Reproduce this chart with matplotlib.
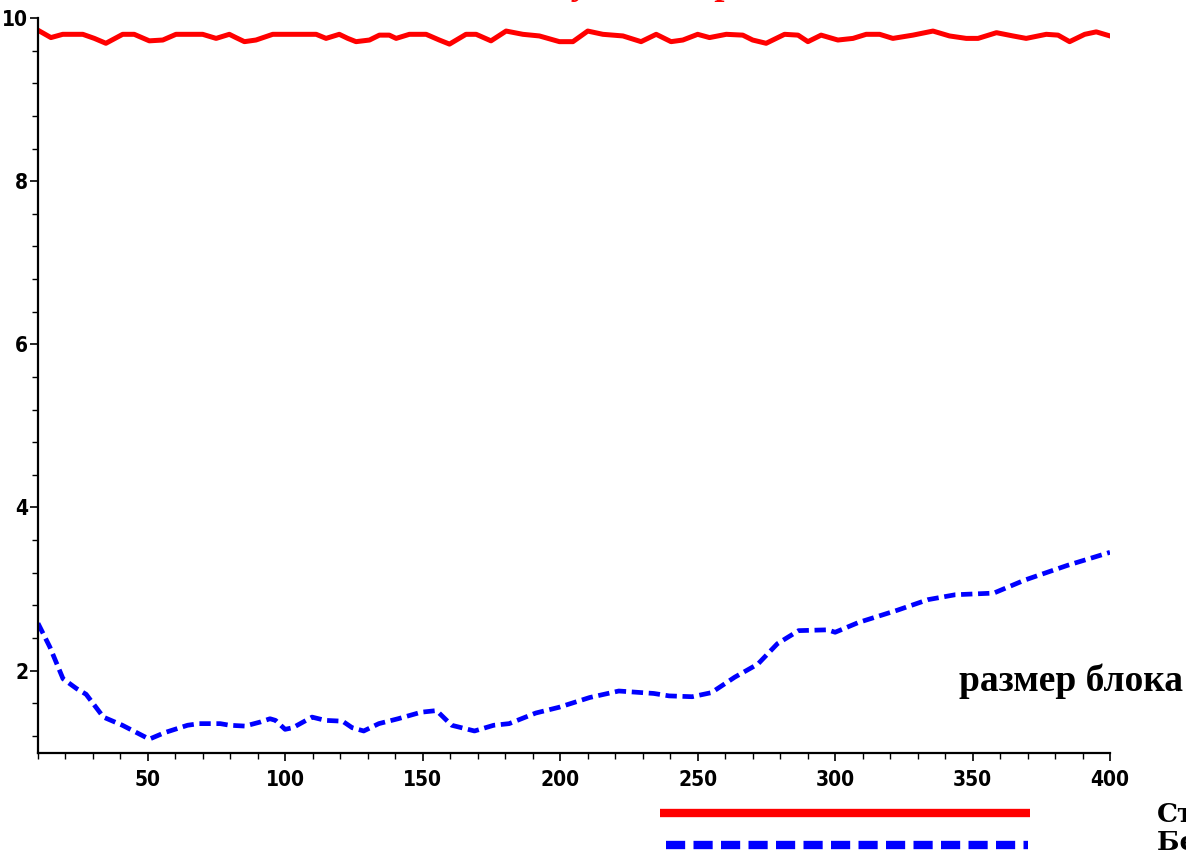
import matplotlib
matplotlib.use("Agg")
import matplotlib.pyplot as plt
from matplotlib.lines import Line2D
from matplotlib.ticker import MultipleLocator

# block size values and measured ratios for the two methods
x_std = [10, 14.7, 19, 26.3, 30.5, 34.7, 40.8, 45, 50.5, 55.4, 60.2, 69.9, 74.8, 79.6, 82,
         85.1, 89.3, 95.4, 111.2, 114.8, 119.6, 122.7, 125.7, 130.6, 134.2, 137.8, 140.3,
         145.1, 151.2, 156, 159.7, 165.7, 169.4, 174.8, 180.3, 186.4, 192.4, 199.7, 204.6,
         210, 215.5, 222.8, 229.4, 234.9, 240.3, 244.6, 250, 254.3, 260.4, 266.4, 270,
         274.9, 281.6, 286.5, 290.1, 294.9, 301, 306.5, 311.3, 316.2, 321, 328.3, 335.6,
         341.6, 347.7, 352, 358.7, 364.7, 369.5, 376.8, 381.1, 385.3, 390.8, 395, 400]
y_std = [9.85, 9.76, 9.80, 9.80, 9.75, 9.69, 9.80, 9.80, 9.72, 9.73, 9.80, 9.80, 9.75, 9.80,
         9.76, 9.71, 9.73, 9.80, 9.80, 9.75, 9.80, 9.75, 9.71, 9.73, 9.79, 9.79, 9.75,
         9.80, 9.80, 9.73, 9.68, 9.80, 9.80, 9.72, 9.84, 9.80, 9.78, 9.71, 9.71,
         9.84, 9.80, 9.78, 9.71, 9.80, 9.71, 9.73, 9.80, 9.76, 9.80, 9.79, 9.73,
         9.69, 9.80, 9.79, 9.71, 9.79, 9.73, 9.75, 9.80, 9.80, 9.75, 9.79, 9.84,
         9.78, 9.75, 9.75, 9.82, 9.78, 9.75, 9.80, 9.79, 9.71, 9.80, 9.83, 9.78]

x_blk = [10, 14.3, 19.1, 24, 27.5, 33.8, 40.7, 50.5, 56.1, 64.4, 68.6, 76.3, 79.7, 85.3,
         90.9, 94.4, 96.4, 99.9, 102.7, 109.7, 114.5, 120.8, 124.3, 128.5, 134, 141,
         149.4, 155, 160.5, 168.8, 175.8, 181.4, 191.1, 199.5, 210.7, 221.3, 234,
         239.6, 248, 255, 263.5, 271.9, 279, 286.7, 297.3, 300, 308.5, 322.6, 333.8,
         343.7, 357.7, 369, 384.5, 400]
y_blk = [2.58, 2.29, 1.90, 1.78, 1.71, 1.43, 1.33, 1.16, 1.24, 1.33, 1.35, 1.35, 1.33, 1.32,
         1.37, 1.41, 1.39, 1.28, 1.30, 1.43, 1.39, 1.38, 1.30, 1.26, 1.35, 1.41,
         1.49, 1.51, 1.33, 1.26, 1.33, 1.35, 1.48, 1.55, 1.67, 1.75, 1.72,
         1.69, 1.68, 1.73, 1.92, 2.08, 2.33, 2.49, 2.50, 2.47, 2.59, 2.74, 2.87,
         2.93, 2.95, 3.11, 3.29, 3.45]

x_ticks = [50, 100, 150, 200, 250, 300, 350, 400]
y_ticks = [2, 4, 6, 8, 10]
labels = ['Стандартный', 'Без блоков']

tick_font = dict(family='DejaVu Sans', weight='bold', size=15, stretch='condensed')

fig = plt.figure(figsize=(11.86, 8.57), dpi=100)
ax = fig.add_axes([38 / 1186, 1 - 753 / 857, (1110 - 38) / 1186, (753 - 18) / 857])

ax.plot(x_std, y_std, color='#ff0000', lw=3.6)
ax.plot(x_blk, y_blk, color='#0000ff', lw=3.4, dashes=(2.4, 1.2))

ax.set_xlim(10, 400)
ax.set_ylim(0.99, 10)

for s in ['top', 'right']:
    ax.spines[s].set_visible(False)
for s in ['left', 'bottom']:
    ax.spines[s].set_linewidth(1.6)

ax.set_xticks(x_ticks)
ax.set_yticks(y_ticks)
ax.xaxis.set_minor_locator(MultipleLocator(10))
ax.yaxis.set_minor_locator(MultipleLocator(0.4))
ax.tick_params(which='major', direction='out', length=6, width=1.2)
ax.tick_params(which='minor', direction='out', length=4, width=1.0)
ax.tick_params(axis='x', which='major', pad=6)
ax.tick_params(axis='y', which='major', pad=1)
ax.set_xticklabels([str(v) for v in x_ticks], fontdict=tick_font)
ax.set_yticklabels([str(v) for v in y_ticks], fontdict=tick_font)

fig.text(1183 / 1186, 1 - 681 / 857, 'размер блока', ha='right', va='center',
         family='Liberation Serif', weight='bold', size=27)

# legend drawn below the plot area
fig.add_artist(Line2D([660 / 1186, 1030 / 1186], [1 - 813 / 857] * 2,
                      color='#ff0000', lw=6, solid_capstyle='butt'))
fig.add_artist(Line2D([666 / 1186, 1028 / 1186], [1 - 845 / 857] * 2,
                      color='#0000ff', lw=6, dashes=(2.3, 1.0), dash_capstyle='butt'))
fig.text(1157 / 1186, 1 - 814 / 857, labels[0], ha='left', va='center',
         family='DejaVu Serif', weight='bold', size=19)
fig.text(1157 / 1186, 1 - 842 / 857, labels[1], ha='left', va='center',
         family='DejaVu Serif', weight='bold', size=19)

# title sits above the canvas, only descenders reach into view
fig.text(395 / 1186, 1 + 6 / 857, 'Отношение', ha='left', va='baseline',
         family='Liberation Serif', weight='bold', size=26, color='black')
fig.text(575 / 1186, 1 + 6 / 857, 'у стандартного / блочного', ha='left', va='baseline',
         family='Liberation Serif', weight='bold', style='italic', size=26, color='#ff0000')

fig.savefig('out.png', dpi=100)
